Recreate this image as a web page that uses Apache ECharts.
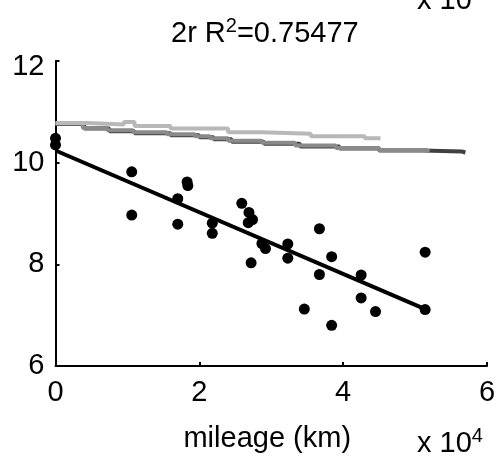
<!DOCTYPE html>
<html>
<head>
<meta charset="utf-8">
<script src="https://cdn.jsdelivr.net/npm/echarts@6/dist/echarts.min.js"></script>
<style>
html,body{margin:0;padding:0;background:#fff;}
#c{width:498px;height:459px;}
</style>
</head>
<body>
<div id="c"></div>
<script>
// Data (mileage in units of 10^4 km)
var mileage = [0, 0, 1.06, 1.06, 1.70, 1.70, 1.83, 1.84, 2.18, 2.18, 2.59, 2.69, 2.68, 2.74, 2.72, 2.87, 2.92, 3.23, 3.23, 3.67, 3.67, 3.84, 3.46, 3.84, 4.25, 4.25, 4.45, 5.14, 5.14];
var values  = [10.48, 10.35, 9.82, 8.97, 9.29, 8.79, 9.62, 9.55, 8.81, 8.61, 9.20, 9.02, 8.82, 8.88, 8.03, 8.41, 8.31, 8.40, 8.12, 8.70, 7.80, 8.15, 7.12, 6.80, 7.79, 7.34, 7.07, 8.24, 7.11];
var fitX = [0, 5.14];
var fitY = [10.24, 7.12];
var lightX = [0, 0.45, 0.95, 1.1, 1.6, 2.4, 2.87, 3.55, 4.3, 4.52];
var lightY = [10.78, 10.75, 10.8, 10.72, 10.67, 10.6, 10.57, 10.52, 10.48, 10.48];
var midX = [0, 0.38, 0.72, 1.08, 1.55, 1.94, 2.15, 2.4, 2.87, 3.33, 3.9, 4.5, 5.15, 5.2];
var midY = [10.77, 10.68, 10.64, 10.6, 10.56, 10.52, 10.48, 10.43, 10.39, 10.34, 10.29, 10.25, 10.22, 10.22];
var darkX = [0, 0.4, 0.75, 1.1, 1.6, 2.0, 2.2, 2.45, 2.9, 3.4, 3.95, 4.5, 5.1, 5.65, 5.7];
var darkY = [10.76, 10.67, 10.62, 10.58, 10.54, 10.5, 10.46, 10.41, 10.37, 10.32, 10.28, 10.24, 10.22, 10.2, 10.2];
var xTicks = [0, 2, 4, 6];
var yTicks = [6, 8, 10, 12];

function zip(a, b) { return a.map(function (v, i) { return [v, b[i]]; }); }

var FONT = 'Liberation Sans, Arial, Helvetica, sans-serif';
var FS = 29;
var chart = echarts.init(document.getElementById('c'), null, {renderer: 'canvas'});
chart.setOption({
  animation: false,
  backgroundColor: '#fff',
  grid: {left: 55.5, right: 11, top: 61, bottom: 93, containLabel: false, outerBoundsMode: 'none'},
  xAxis: {
    type: 'value', min: xTicks[0], max: xTicks[xTicks.length - 1], interval: 2,
    name: 'mileage (km)', nameLocation: 'middle', nameGap: 58,
    nameTextStyle: {color: '#000', fontSize: FS, fontFamily: FONT, padding: [0, 8, 0, 0]},
    axisLine: {show: true, lineStyle: {color: '#000', width: 2}},
    axisTick: {show: true, inside: true, length: 4, lineStyle: {color: '#000', width: 2}},
    axisLabel: {color: '#000', fontSize: FS, fontFamily: FONT, margin: 12},
    splitLine: {show: false}
  },
  yAxis: {
    type: 'value', min: yTicks[0], max: yTicks[yTicks.length - 1], interval: 2,
    axisLine: {show: true, lineStyle: {color: '#000', width: 2}},
    axisTick: {show: true, inside: true, length: 4, lineStyle: {color: '#000', width: 2}},
    axisLabel: {color: '#000', fontSize: FS, fontFamily: FONT, margin: 11,
      formatter: function (v) { return v === 12 ? '{t|' + v + '}' : '' + v; },
      rich: {t: {fontSize: FS, fontFamily: FONT, color: '#000', padding: [12, 0, 0, 0]}}},
    splitLine: {show: false}
  },
  graphic: [
    {type: 'text', left: 171, top: 16, style: {
      text: '2r R{s|2}=0.75477', fill: '#000', font: FS + 'px ' + FONT,
      rich: {s: {fontSize: 20, fontFamily: FONT, fill: '#000', padding: [0, 0, 15, 0]}}
    }},
    {type: 'text', left: 417, top: 426, style: {
      text: 'x 10{s|4}', fill: '#000', font: FS + 'px ' + FONT,
      rich: {s: {fontSize: 20, fontFamily: FONT, fill: '#000', padding: [0, 0, 15, 0]}}
    }},
    {type: 'text', left: 417, top: -17, style: {
      text: 'x 10{s|4}', fill: '#000', font: FS + 'px ' + FONT,
      rich: {s: {fontSize: 20, fontFamily: FONT, fill: '#000', padding: [0, 0, 15, 0]}}
    }}
  ],
  series: [
    {type: 'line', data: zip(darkX, darkY), step: 'end', symbol: 'none',
     lineStyle: {color: '#404040', width: 4}, z: 2},
    {type: 'line', data: zip(midX, midY), step: 'end', symbol: 'none',
     lineStyle: {color: '#8a8a8a', width: 4}, z: 3},
    {type: 'line', data: zip(lightX, lightY), step: 'end', symbol: 'none',
     lineStyle: {color: '#b8b8b8', width: 4}, z: 4},
    {type: 'scatter', data: zip(mileage, values), symbol: 'circle', symbolSize: 11,
     itemStyle: {color: '#000', opacity: 1}, z: 5},
    {type: 'line', data: zip(fitX, fitY), symbol: 'none',
     lineStyle: {color: '#000', width: 4}, z: 6}
  ]
});
</script>
</body>
</html>
